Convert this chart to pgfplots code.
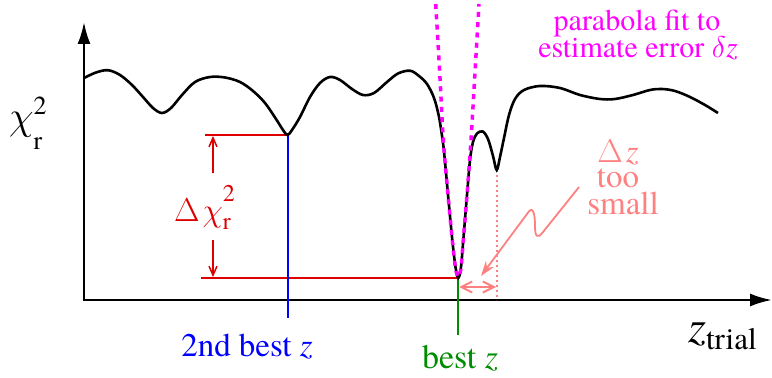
\RequirePackage{fix-cm}
\documentclass[border=0pt]{standalone}
\usepackage{fontspec}
\setmainfont{texgyretermes}[Extension=.otf, UprightFont=*-regular, ItalicFont=*-italic, BoldFont=*-bold, BoldItalicFont=*-bolditalic]
\newfontfamily\tnr{texgyretermes}[Extension=.otf, UprightFont=*-regular, ItalicFont=*-italic, BoldFont=*-bold, BoldItalicFont=*-bolditalic]
\usepackage{pgfplots}
\pgfplotsset{compat=1.18}
\usepackage{pgfplotstable}
\usetikzlibrary{arrows.meta}

\definecolor{chired}{RGB}{222,0,0}
\definecolor{bestgreen}{RGB}{0,140,0}
\definecolor{salmon}{RGB}{255,128,128}
\definecolor{fitmag}{RGB}{255,0,255}
\newcommand{\fs}[1]{\tnr\fontsize{#1bp}{#1bp}\selectfont}

% chi^2 against trial redshift (x in px, height above z axis)
\pgfplotstableread{
x h
84 222
96 227.5
108 229.8
120 225
132 215
143 203
153 192
162 187
171 192
182 205
195 218
210 223
225 222.5
240 218
253 209
265 197
276 181
283 170
287.5 165
292 170
300 183
310 203
320 217
330 223
340 220
352 211
363 205
374 207
387 218
398 226.5
410 229.3
419 224
427 216
434 202
439 183
443 157
445 138
448.5 100
452.3 60
455.5 33
458.3 22
461 33
463.3 60
467 105
470 140
473 158
477 166.5
482.7 168.5
488 161
493 144
496.7 130
500 143
504 162
509 185
515 201
524 210
540 214
560 212
580 205
600 201
615 201
633 205
650 210
662 211
675 209
690 203
705 195
718 187
}\chisq

% parabola fit around best minimum
\pgfplotstableread{
x h
435.7 296
439.5 231
443.3 160
448 105
452.3 60
455.5 32
458.3 23
461 32
463.3 60
467 105
471 160
475 228
479 296
}\parfit

\begin{document}
\begin{tikzpicture}
\begin{axis}[
  scale only axis,
  width=772bp, height=378bp,
  xmin=0, xmax=772, ymin=-78, ymax=300,
  hide axis, clip=false,
]
% axes
\draw[line width=2.5bp, {Latex[length=22bp,width=13bp]}-{Latex[length=22bp,width=13bp]}]
  (axis cs:84,278) -- (axis cs:84,0) -- (axis cs:772,0);

% red delta chi^2 guides
\addplot[chired, line width=2.2bp] coordinates {(205,165) (288,165)};
\addplot[chired, line width=2.2bp] coordinates {(201,22) (458,22)};
\draw[chired, line width=1.5bp, -{Straight Barb[length=9bp,width=8bp]}] (axis cs:213,127) -- (axis cs:213,164);
\draw[chired, line width=1.5bp, -{Straight Barb[length=9bp,width=8bp]}] (axis cs:213,60) -- (axis cs:213,23);

% second best and best z
\addplot[blue, line width=2.2bp] coordinates {(288,165) (288,-18)};
\addplot[bestgreen, line width=2.2bp] coordinates {(458,22) (458,-35)};

% delta z too small
\addplot[salmon, line width=2bp, dash pattern=on 2.5bp off 2.5bp] coordinates {(496.7,130) (496.7,0)};
\draw[salmon, line width=2bp, {Straight Barb[length=11bp,width=11bp]}-{Straight Barb[length=11bp,width=11bp]}]
  (axis cs:459,13) -- (axis cs:496,13);
\draw[salmon, line width=1.8bp, -{Stealth[length=15bp,width=10bp]}]
  (axis cs:579,113) -- (axis cs:543,68)
  .. controls (axis cs:537,60) and (axis cs:535,64) .. (axis cs:535,74)
  .. controls (axis cs:535,86) and (axis cs:533,96) .. (axis cs:527,86)
  -- (axis cs:481,24);

% chi^2 curve and parabola fit
\addplot[black, line width=2.6bp, smooth, tension=0.55] table[x=x, y=h] {\chisq};
\addplot[fitmag, line width=3.5bp, smooth, tension=0.5, dash pattern=on 5bp off 5.3bp] table[x=x, y=h] {\parfit};

% labels
\node[anchor=base west, inner sep=0pt] at (axis cs:9,170)
  {\fs{40}$\chi$\rlap{\raisebox{15bp}{\fs{26}2}}\raisebox{-20bp}{\fs{26}r}};
\node[anchor=base west, inner sep=0pt, text=chired] at (axis cs:174,78)
  {\fs{33}$\Delta$\hspace{3bp}$\chi$\rlap{\raisebox{20bp}{\fs{24}2}}\raisebox{-8bp}{\fs{24}r}};
\node[anchor=base, text=blue] at (axis cs:247,-57) {\fs{33}2nd best \textit{z}};
\node[anchor=base, text=bestgreen] at (axis cs:460,-69) {\fs{34}best \textit{z}};
\node[anchor=base west, inner sep=0pt] at (axis cs:688,-43) {\fs{46}\textit{z}\raisebox{-7bp}{\fs{31}trial}};
\node[anchor=base, text=fitmag] at (axis cs:637,269) {\fs{30}parabola fit to};
\node[anchor=base, text=fitmag] at (axis cs:638,242) {\fs{30}estimate error $\delta$\textit{z}};
\node[anchor=base, text=salmon] at (axis cs:618,137) {\fs{33}$\Delta$\hspace{3bp}\textit{z}};
\node[anchor=base, text=salmon] at (axis cs:618,112) {\fs{33}too};
\node[anchor=base, text=salmon] at (axis cs:623,85) {\fs{33}small};
\end{axis}
\pgfresetboundingbox
\path (0,0) rectangle (772bp,378bp);
\end{tikzpicture}
\end{document}
